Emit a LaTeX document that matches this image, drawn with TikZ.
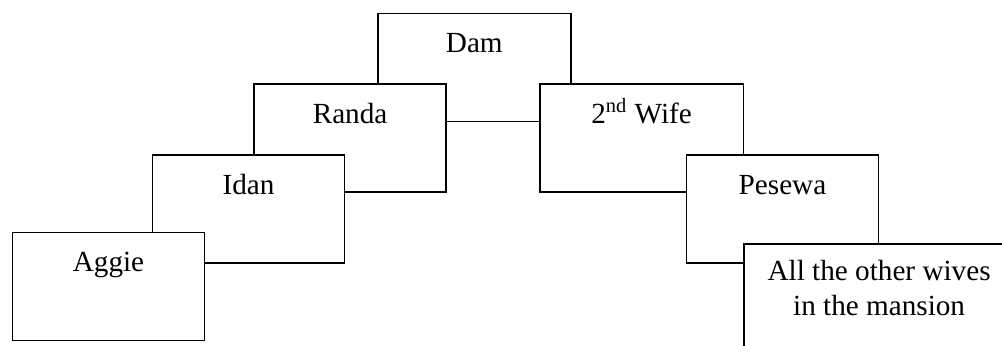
\documentclass[tikz,border=0pt]{standalone}
\usepackage{fontspec}
\setmainfont{Liberation Serif}
\usetikzlibrary{positioning}

\begin{document}
\begin{tikzpicture}[
	x=0.5pt, y=-0.5pt,
	person/.style={rectangle, draw, fill=white, line width=0.8pt, anchor=north west, inner sep=0pt, minimum width=96pt, text height=19.5pt, text depth=34.5pt, font=\fontsize{14.6}{17.5}\selectfont},
	widebox/.style={person, minimum width=101.8pt},
]
\clip (0,0) rectangle (1002,345);

% top of the tree
\node[person, minimum width=96.5pt] (dam) at (377,12.7) {Dam};
\node[person] (randa) at (253.3,83.3) {Randa};
\node[widebox] (wife) at (539,83.3) {2\textsuperscript{nd} Wife};

% the two branches
\node[person] (idan) at (151.7,154.3) {Idan};
\node[person] (pesewa) at (685.7,154.3) {Pesewa};
\node[person] (aggie) at (11.7,231.5) {Aggie};
\node[person, minimum width=135pt, text height=18.5pt, text depth=35.5pt] (others) at (743.3,243) {\begin{tabular}[t]{@{}c@{}}All the other wives\\in the mansion\end{tabular}};

\end{tikzpicture}
\end{document}
